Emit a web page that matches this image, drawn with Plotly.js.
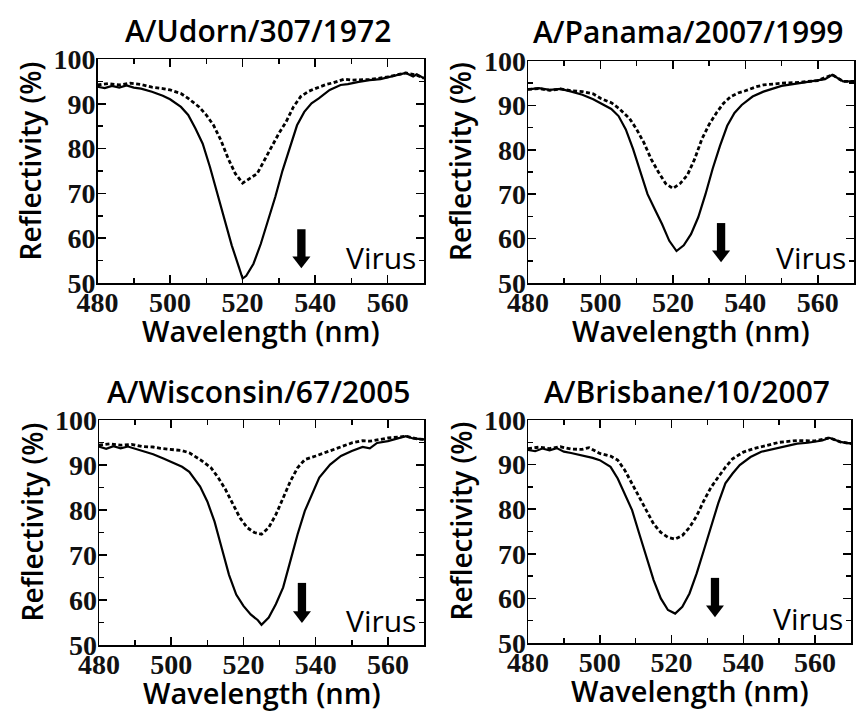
<!DOCTYPE html>
<html>
<head>
<meta charset="utf-8">
<script src="https://cdn.plot.ly/plotly-3.0.1.min.js"></script>
<style>html,body{margin:0;padding:0;background:#fff;}#chart{width:858px;height:715px;}</style>
</head>
<body>
<div id="chart"></div>
<script>
// ---- Data ----
const panelTitles = ["A/Udorn/307/1972", "A/Panama/2007/1999", "A/Wisconsin/67/2005", "A/Brisbane/10/2007"];
const xTickVals = [480, 500, 520, 540, 560];
const yTickVals = [50, 60, 70, 80, 90, 100];

// Panel 1: A/Udorn/307/1972
const udornSolidX = [480,482,484,486,488,490,492,495,498,500,503,505,507,509,511,513,515,517,519,520,521,523,525,527,529,531,533,535,537,539,541,544,547,549,552,555,558,560,562,565,567,568,570];
const udornSolidY = [93.8,93.5,94.0,93.6,94.1,93.6,93.4,92.7,91.8,91.0,89.3,87.5,84.5,81.1,75.9,70.0,64.7,58.4,53.5,51.0,51.6,54.3,58.7,64.0,69.2,75.1,80.4,85.2,88.2,90.1,91.2,93.1,94.2,94.4,94.9,95.3,95.5,95.9,96.2,96.9,96.1,96.6,95.7];
const udornDashX = [480,483,486,489,492,495,498,500,503,505,508,510,512,514,516,518,520,522,524,526,528,530,532,534,536,538,540,543,545,548,550,555,560,565,568,570];
const udornDashY = [94.2,94.5,94.2,94.6,94.3,93.7,93.4,93.1,92.3,91.2,89.3,87.5,85.2,81.9,77.8,74.4,72.3,73.3,74.4,77.4,80.4,83.4,86.0,89.3,91.6,92.7,93.4,94.3,94.7,95.5,95.3,95.4,96.0,96.9,96.4,95.7];

// Panel 2: A/Panama/2007/1999
const panamaSolidX = [480,483,486,489,492,495,498,500,503,505,507,509,511,513,515,517,519,521,523,525,527,529,531,533,535,537,539,542,545,548,550,555,560,562,564,567,570];
const panamaSolidY = [93.6,93.9,93.5,93.7,93.1,92.4,91.4,90.5,89.2,87.6,84.6,80.2,75.0,70.0,66.6,63.3,59.5,57.2,58.5,61.0,64.8,70.0,75.8,80.9,85.4,88.3,90.1,92.0,93.1,93.9,94.4,95.0,95.6,95.9,96.9,95.4,95.4];
const panamaDashX = [480,483,486,489,492,495,498,500,503,505,508,510,512,514,516,518,520,522,524,526,528,530,532,534,536,538,540,543,545,550,555,560,564,567,570];
const panamaDashY = [93.6,93.8,93.4,93.7,93.3,93.1,92.6,91.6,90.6,89.4,87.1,84.6,81.6,77.9,75.0,72.4,71.3,72.4,74.3,77.9,82.4,85.7,88.3,90.5,92.0,92.8,93.3,94.2,94.6,95.0,95.2,95.6,96.9,95.4,95.4];

// Panel 3: A/Wisconsin/67/2005
const wiscSolidX = [480,482,484,486,488,490,492,495,498,500,503,505,508,510,512,514,516,518,520,522,524,525,527,529,531,533,535,537,539,541,544,547,550,553,555,557,560,562,565,567,570];
const wiscSolidY = [94.1,93.6,94.2,93.7,94.1,93.6,93.1,92.4,91.4,90.7,89.6,88.5,85.2,81.9,77.4,71.5,65.6,61.2,58.7,56.8,55.5,54.5,56.1,59.1,62.8,68.7,74.6,79.8,83.5,87.2,90.1,92.0,93.1,94.0,93.7,94.9,95.3,95.8,96.4,95.9,95.7];
const wiscDashX = [480,483,486,489,492,495,497,500,503,505,508,511,513,515,517,519,521,523,525,527,529,531,533,535,537,540,543,545,548,550,553,555,558,560,563,565,568,570];
const wiscDashY = [94.4,94.7,94.4,94.6,94.1,94.0,93.7,93.4,93.2,92.7,91.2,89.4,87.2,84.6,81.3,78.3,76.1,75.0,74.6,76.1,79.0,82.7,86.4,89.4,91.2,92.0,92.9,93.4,94.3,94.9,95.4,95.3,95.7,96.0,96.2,96.4,95.8,95.7];

// Panel 4: A/Brisbane/10/2007
const brisSolidX = [480,482,484,486,488,490,492,495,498,500,503,505,507,509,511,513,515,517,519,521,523,525,527,529,531,533,535,537,539,542,545,548,550,553,555,558,560,562,564,567,570];
const brisSolidY = [93.3,93.0,93.6,93.2,93.7,92.9,92.6,92.1,91.5,91.0,89.5,86.9,83.5,79.8,74.5,69.3,64.1,60.0,57.4,56.6,58.1,61.1,65.6,70.8,76.0,81.3,85.8,88.0,89.9,91.7,92.9,93.4,93.8,94.3,94.7,94.9,95.1,95.4,96.0,95.1,94.7];
const brisDashX = [480,483,486,489,492,495,497,500,503,505,507,509,511,513,515,517,519,521,523,525,527,529,531,533,535,537,540,543,545,548,550,555,560,564,567,570];
const brisDashY = [93.6,93.9,93.6,94.0,93.5,93.4,93.8,92.5,91.9,91.0,88.7,85.7,82.7,79.7,76.7,74.8,73.7,73.3,74.1,75.9,78.5,81.9,84.9,87.2,89.4,91.3,92.8,93.6,94.0,94.6,95.0,95.4,95.3,96.0,95.1,94.7];

// Arrow positions (data coords) per panel: x, top y, bottom y
const arrowX = [536.2, 533.3, 536.2, 532.1];
const arrowTop = [62.0, 63.5, 63.8, 64.6];
const arrowBot = [53.3, 54.7, 54.9, 55.8];

// ---- Build figure ----
const solids = [[udornSolidX, udornSolidY],[panamaSolidX, panamaSolidY],[wiscSolidX, wiscSolidY],[brisSolidX, brisSolidY]];
const dashes = [[udornDashX, udornDashY],[panamaDashX, panamaDashY],[wiscDashX, wiscDashY],[brisDashX, brisDashY]];

const W = 858, H = 715;
// plot areas in pixels: [left, right, top, bottom]
const boxes = [[97.5,424,59,283],[528,854,61,283],[99,424,420,645],[528,851,420,643]];

const traces = [];
const layout = {
  width: W, height: H,
  margin: {l:0, r:0, t:0, b:0},
  paper_bgcolor: '#fff', plot_bgcolor: '#fff',
  showlegend: false,
  annotations: [], shapes: []
};

const serif = '"Liberation Serif", Tinos, "Times New Roman", "DejaVu Serif", serif';
const tickFont = {family: serif, size: 28, color: '#111', weight: 'bold'};
const sansFont = '"Open Sans", sans-serif';

boxes.forEach((b, i) => {
  const n = i + 1;
  const xa = 'x' + (n === 1 ? '' : n), ya = 'y' + (n === 1 ? '' : n);
  traces.push({x: solids[i][0], y: solids[i][1], type: 'scatter', mode: 'lines',
    line: {color: '#000', width: 2.2}, xaxis: xa, yaxis: ya});
  traces.push({x: dashes[i][0], y: dashes[i][1], type: 'scatter', mode: 'lines',
    line: {color: '#000', width: 2.8, dash: '4px,2.5px'}, xaxis: xa, yaxis: ya});
  const common = {showline: true, linecolor: '#000', linewidth: 1.5, mirror: 'ticks',
    ticks: 'inside', ticklen: 8, tickwidth: 1.5, tickcolor: '#000', showgrid: false, zeroline: false,
    tickfont: tickFont, fixedrange: true};
  layout['xaxis' + (n === 1 ? '' : n)] = Object.assign({}, common, {
    domain: [b[0]/W, b[1]/W], range: [480, 570], anchor: ya,
    tickmode: 'array', tickvals: xTickVals, ticklabelstandoff: -6,
    minor: {ticks: 'inside', ticklen: 5, tickwidth: 1.5, tickcolor: '#000', dtick: 10, tick0: 480}
  });
  layout['yaxis' + (n === 1 ? '' : n)] = Object.assign({}, common, {
    domain: [1 - b[3]/H, 1 - b[2]/H], range: [50, 100], anchor: xa,
    tickmode: 'array', tickvals: yTickVals, ticklabelstandoff: -5,
    minor: {ticks: 'inside', ticklen: 5, tickwidth: 1.5, tickcolor: '#000', dtick: 5, tick0: 50}
  });
  const cx = (b[0] + b[1]) / 2;
  // panel title
  layout.annotations.push({text: panelTitles[i], xref: 'paper', yref: 'paper',
    x: (cx - 3)/W, y: 1 - (b[2] - 29)/H, xanchor: 'center', yanchor: 'middle', showarrow: false,
    font: {family: sansFont, size: 30, color: '#000', weight: 600}});
  // y axis title
  layout.annotations.push({text: 'Reflectivity (%)', xref: 'paper', yref: 'paper',
    x: (b[0] - 68)/W, y: 1 - ((b[2] + b[3]) / 2 - 10)/H, xanchor: 'center', yanchor: 'middle',
    textangle: -90, showarrow: false,
    font: {family: sansFont, size: 28, color: '#000', weight: 600}});
  // x axis title
  layout.annotations.push({text: 'Wavelength (nm)', xref: 'paper', yref: 'paper',
    x: (cx + 0)/W, y: 1 - (b[3] + 47)/H, xanchor: 'center', yanchor: 'middle', showarrow: false,
    font: {family: sansFont, size: 29, color: '#000', weight: 600}});
  // Virus label
  layout.annotations.push({text: 'Virus', xref: 'paper', yref: 'paper',
    x: (b[1] - 6)/W, y: 1 - (b[3] - 25)/H, xanchor: 'right', yanchor: 'middle', showarrow: false,
    font: {family: sansFont, size: 30, color: '#000'}});
  // arrow: shaft + head
  const hw = 2.5, sw = 1.15, hh = 2.6;
  layout.shapes.push({type: 'rect', xref: xa, yref: ya, x0: arrowX[i] - sw, x1: arrowX[i] + sw,
    y0: arrowBot[i] + hh - 0.2, y1: arrowTop[i], fillcolor: '#000', line: {width: 0}});
  layout.shapes.push({type: 'path', xref: xa, yref: ya,
    path: `M ${arrowX[i]-hw} ${arrowBot[i]+hh} L ${arrowX[i]+hw} ${arrowBot[i]+hh} L ${arrowX[i]} ${arrowBot[i]} Z`,
    fillcolor: '#000', line: {width: 0}});
});

Plotly.newPlot('chart', traces, layout, {staticPlot: true, displayModeBar: false});
</script>
</body>
</html>
